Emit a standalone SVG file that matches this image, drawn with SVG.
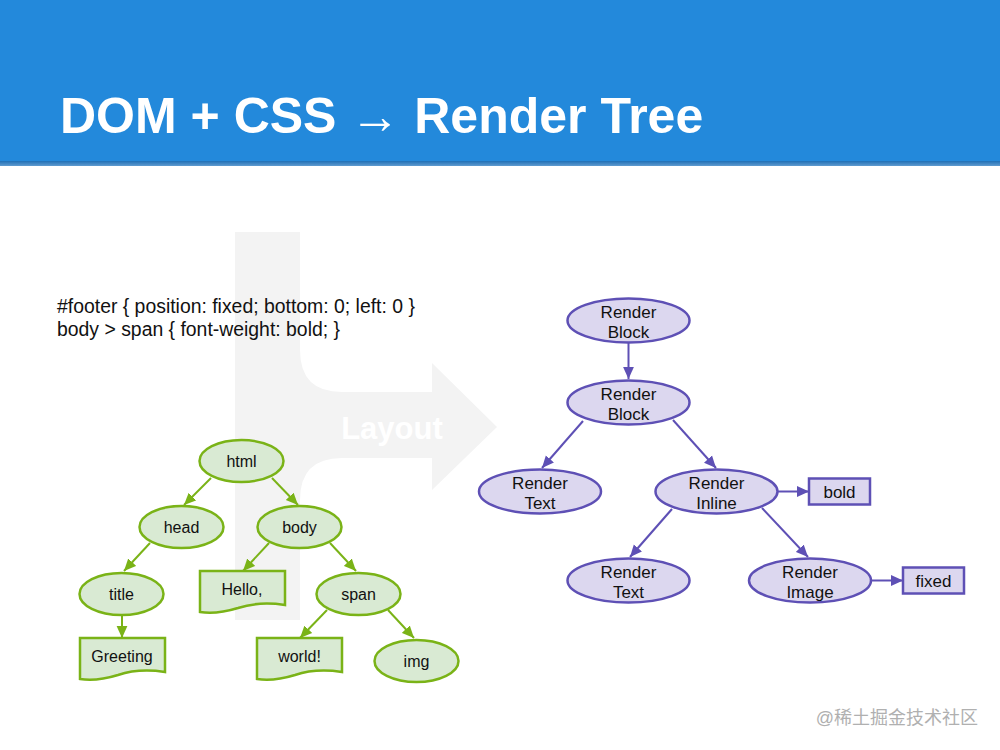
<svg xmlns="http://www.w3.org/2000/svg" width="1000" height="750" viewBox="0 0 1000 750">
<defs>
<marker id="ag" viewBox="0 0 10 10" refX="10" refY="5" markerWidth="6" markerHeight="6" markerUnits="strokeWidth" orient="auto"><path d="M0,0.5 L10,5 L0,9.5 z" fill="#7ab317"/></marker>
<marker id="ap" viewBox="0 0 10 10" refX="10" refY="5" markerWidth="6" markerHeight="6" markerUnits="strokeWidth" orient="auto"><path d="M0,0.5 L10,5 L0,9.5 z" fill="#5e50b5"/></marker>
<linearGradient id="sh" x1="0" y1="0" x2="0" y2="1"><stop offset="0" stop-color="#1f6fb5"/><stop offset="1" stop-color="#5f9bd0"/></linearGradient>
</defs>
<style>
.t{font-family:"Liberation Sans",Arial,sans-serif;fill:#111;}
.g{fill:#d9ead3;stroke:#7ab317;stroke-width:2.5;}
.p{fill:#dcd7ef;stroke:#5e50b5;stroke-width:2.5;}
.n{font-size:16px;text-anchor:middle;}
.r{font-size:17px;}
.eg{stroke:#7ab317;stroke-width:2;fill:none;marker-end:url(#ag);}
.ep{stroke:#5e50b5;stroke-width:2;fill:none;marker-end:url(#ap);}
</style>
<rect x="0" y="0" width="1000" height="750" fill="#ffffff"/>
<rect x="0" y="0" width="1000" height="161" fill="#2389db"/>
<rect x="0" y="161" width="1000" height="5" fill="url(#sh)"/>
<text x="60" y="133" font-family="'Liberation Sans',Arial,sans-serif" font-weight="bold" font-size="50" fill="#ffffff">DOM + CSS → Render Tree</text>
<g id="layout-arrow">
<path d="M235,232 H300 V350 Q300,392 342,392 H432 V363 L497,427 L432,490 V458 H342 Q300,458 300,500 V620 H235 Z" fill="#f3f3f3"/>
<text x="392" y="439" font-family="'Liberation Sans',Arial,sans-serif" font-weight="bold" font-size="31" fill="#ffffff" text-anchor="middle">Layout</text>
</g>
<g id="css" class="t" font-size="19.4">
<text x="57" y="313">#footer { position: fixed; bottom: 0; left: 0 }</text>
<text x="57" y="336">body &gt; span { font-weight: bold; }</text>
</g>
<g id="connectors">
<line class="eg" x1="211" y1="478" x2="184" y2="505"/>
<line class="eg" x1="272" y1="478" x2="298" y2="505"/>
<line class="eg" x1="150" y1="543" x2="124" y2="571"/>
<line class="eg" x1="269" y1="543" x2="243" y2="571"/>
<line class="eg" x1="330" y1="543" x2="356" y2="571"/>
<line class="eg" x1="122" y1="616" x2="122" y2="638"/>
<line class="eg" x1="327" y1="610" x2="300" y2="638"/>
<line class="eg" x1="388" y1="610" x2="414" y2="638"/>
<line class="ep" x1="628.5" y1="343" x2="628.5" y2="379"/>
<line class="ep" x1="583" y1="421" x2="542" y2="468"/>
<line class="ep" x1="673" y1="420" x2="716" y2="468"/>
<line class="ep" x1="778" y1="491.5" x2="809" y2="491.5"/>
<line class="ep" x1="672" y1="509" x2="630" y2="557"/>
<line class="ep" x1="762" y1="508" x2="808" y2="557"/>
<line class="ep" x1="872" y1="580.5" x2="903" y2="580.5"/>
</g>
<g id="html"><ellipse class="g" cx="241.5" cy="461" rx="42" ry="21"/><text class="t n" x="241.5" y="467">html</text></g>
<g id="head"><ellipse class="g" cx="181.5" cy="527" rx="42" ry="21"/><text class="t n" x="181.5" y="533">head</text></g>
<g id="body"><ellipse class="g" cx="299.5" cy="527" rx="42" ry="21"/><text class="t n" x="299.5" y="533">body</text></g>
<g id="title"><ellipse class="g" cx="121.5" cy="594" rx="42" ry="21"/><text class="t n" x="121.5" y="600">title</text></g>
<g id="span"><ellipse class="g" cx="358.5" cy="594" rx="42" ry="21"/><text class="t n" x="358.5" y="600">span</text></g>
<g id="img"><ellipse class="g" cx="416.5" cy="661" rx="42" ry="21"/><text class="t n" x="416.5" y="667">img</text></g>
<g id="hello"><path class="g" d="M200,571 H285 V605 C265,602 250,604 238,608 C225,612 212,614 200,612 Z"/><text class="t n" x="242" y="595">Hello,</text></g>
<g id="greeting"><path class="g" d="M80,638 H165 V672 C145,669 130,671 118,675 C105,679 92,681 80,679 Z"/><text class="t n" x="122" y="662">Greeting</text></g>
<g id="world"><path class="g" d="M257,638 H342 V672 C322,669 307,671 295,675 C282,679 269,681 257,679 Z"/><text class="t n" x="299.5" y="662">world!</text></g>
<g id="rb1"><ellipse class="p" cx="628.5" cy="320.5" rx="61" ry="22"/><text class="t n r" x="628.5" y="318">Render</text><text class="t n r" x="628.5" y="338">Block</text></g>
<g id="rb2"><ellipse class="p" cx="628.5" cy="402.5" rx="61" ry="22"/><text class="t n r" x="628.5" y="400">Render</text><text class="t n r" x="628.5" y="420">Block</text></g>
<g id="rtext1"><ellipse class="p" cx="540" cy="491.5" rx="61" ry="22"/><text class="t n r" x="540" y="489">Render</text><text class="t n r" x="540" y="509">Text</text></g>
<g id="rinline"><ellipse class="p" cx="716.5" cy="491.5" rx="61" ry="22"/><text class="t n r" x="716.5" y="489">Render</text><text class="t n r" x="716.5" y="509">Inline</text></g>
<g id="bold"><rect class="p" x="809" y="478.5" width="61" height="26"/><text class="t n r" x="839.5" y="497.5">bold</text></g>
<g id="rtext2"><ellipse class="p" cx="628.5" cy="580.5" rx="61" ry="22"/><text class="t n r" x="628.5" y="578">Render</text><text class="t n r" x="628.5" y="598">Text</text></g>
<g id="rimage"><ellipse class="p" cx="810" cy="580.5" rx="61" ry="22"/><text class="t n r" x="810" y="578">Render</text><text class="t n r" x="810" y="598">Image</text></g>
<g id="fixed"><rect class="p" x="903" y="567.5" width="61" height="26"/><text class="t n r" x="933.5" y="586.5">fixed</text></g>
<text x="978" y="724" font-family="'Liberation Sans','Noto Sans CJK SC',sans-serif" font-size="18" fill="#b0b0b0" text-anchor="end">@稀土掘金技术社区</text>
</svg>
